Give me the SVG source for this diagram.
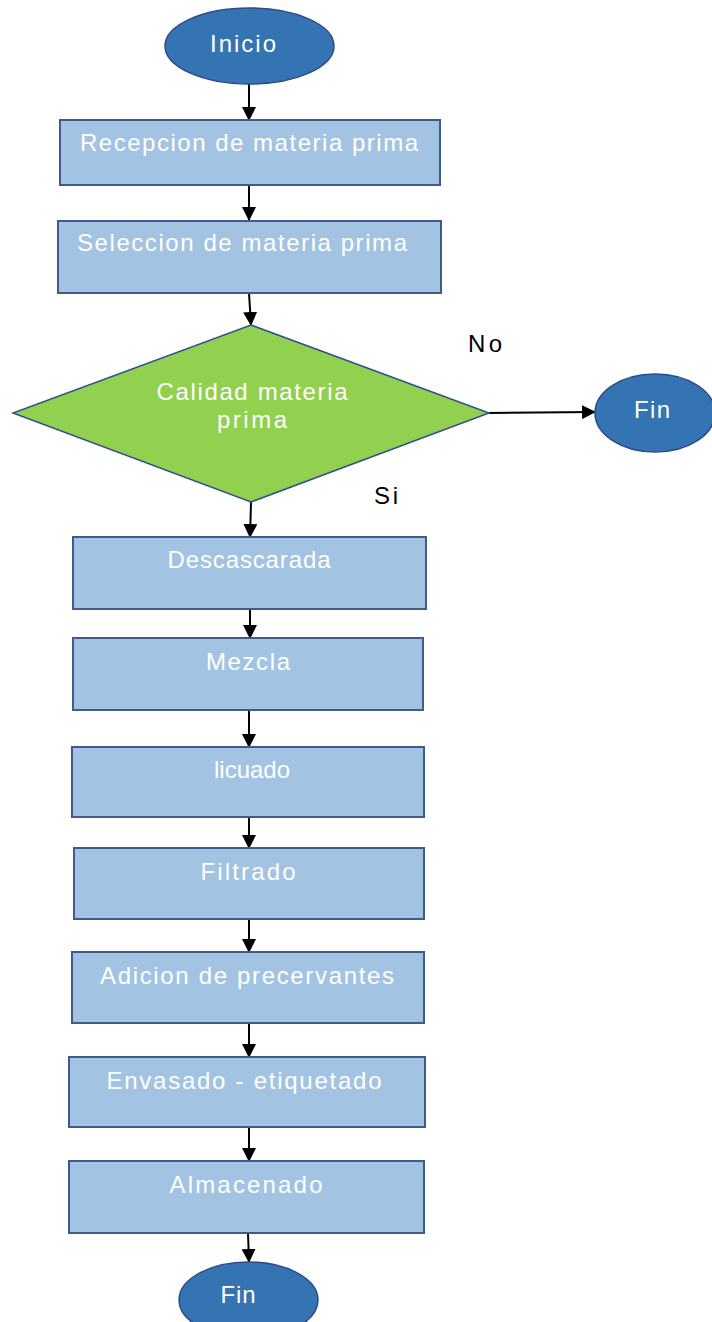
<svg xmlns="http://www.w3.org/2000/svg" width="712" height="1322" viewBox="0 0 712 1322">
<style>
.term{fill:#3474b3;stroke:#2f4a85;stroke-width:1.5}
.proc{fill:#a2c4e2;stroke:#41598b;stroke-width:2}
.dec{fill:#92d050;stroke:#2f4f8f;stroke-width:1.5}
.t{font-family:"Liberation Sans",Arial,sans-serif;font-size:24px;fill:#ffffff}
.lbl{font-family:"Liberation Sans",Arial,sans-serif;font-size:24px;fill:#000000}
.c{stroke:#000;stroke-width:2;fill:none;marker-end:url(#ah)}
</style>
<defs>
<marker id="ah" markerUnits="userSpaceOnUse" markerWidth="14" markerHeight="14" viewBox="0 0 14 14" refX="13" refY="7" orient="auto">
<path d="M0,0 L14,7 L0,14 Z" fill="#000"/>
</marker>
</defs>
<rect width="712" height="1322" fill="#ffffff"/>
<g id="connectors">
<line class="c" x1="249" y1="84" x2="249" y2="120"/>
<line class="c" x1="249" y1="185" x2="249" y2="220"/>
<line class="c" x1="249" y1="293" x2="251" y2="325"/>
<line class="c" x1="489" y1="413" x2="595" y2="412"/>
<line class="c" x1="251" y1="502" x2="250" y2="537"/>
<line class="c" x1="250" y1="609" x2="250" y2="638"/>
<line class="c" x1="249" y1="710" x2="249" y2="747"/>
<line class="c" x1="249" y1="817" x2="249" y2="848"/>
<line class="c" x1="249" y1="919" x2="249" y2="952"/>
<line class="c" x1="249" y1="1023" x2="249" y2="1057"/>
<line class="c" x1="249" y1="1127" x2="249" y2="1161"/>
<line class="c" x1="248" y1="1233" x2="249" y2="1262"/>
</g>
<g id="inicio">
<ellipse class="term" cx="249.5" cy="46" rx="84.5" ry="38"/>
<text class="t" x="243" y="52" text-anchor="middle" textLength="66">Inicio</text>
</g>
<g id="recepcion">
<rect class="proc" x="60" y="120" width="380" height="65"/>
<text class="t" x="80" y="151" textLength="338">Recepcion de materia prima</text>
</g>
<g id="seleccion">
<rect class="proc" x="58" y="221" width="383" height="72"/>
<text class="t" x="77" y="251" textLength="330">Seleccion de materia prima</text>
</g>
<g id="calidad">
<polygon class="dec" points="251,325 489,413 251,502 13,413"/>
<text class="t" x="252" y="400" text-anchor="middle" textLength="191">Calidad materia</text>
<text class="t" x="252" y="428" text-anchor="middle" textLength="70">prima</text>
</g>
<g id="fin1">
<ellipse class="term" cx="655" cy="413" rx="60" ry="39"/>
<text class="t" x="652" y="418" text-anchor="middle" textLength="36">Fin</text>
</g>
<text class="lbl" x="468" y="352" textLength="34">No</text>
<text class="lbl" x="374" y="504" textLength="24">Si</text>
<g id="descascarada">
<rect class="proc" x="73" y="537" width="353" height="72"/>
<text class="t" x="249" y="568" text-anchor="middle" textLength="163">Descascarada</text>
</g>
<g id="mezcla">
<rect class="proc" x="73" y="638" width="350" height="72"/>
<text class="t" x="248" y="670" text-anchor="middle" textLength="84">Mezcla</text>
</g>
<g id="licuado">
<rect class="proc" x="72" y="747" width="352" height="70"/>
<text class="t" x="252" y="778" text-anchor="middle" textLength="76">licuado</text>
</g>
<g id="filtrado">
<rect class="proc" x="74" y="848" width="350" height="71"/>
<text class="t" x="248" y="880" text-anchor="middle" textLength="95">Filtrado</text>
</g>
<g id="adicion">
<rect class="proc" x="72" y="952" width="352" height="71"/>
<text class="t" x="247" y="984" text-anchor="middle" textLength="294">Adicion de precervantes</text>
</g>
<g id="envasado">
<rect class="proc" x="69" y="1057" width="356" height="70"/>
<text class="t" x="244" y="1089" text-anchor="middle" textLength="275">Envasado - etiquetado</text>
</g>
<g id="almacenado">
<rect class="proc" x="69" y="1161" width="355" height="72"/>
<text class="t" x="246" y="1193" text-anchor="middle" textLength="153">Almacenado</text>
</g>
<g id="fin2">
<ellipse class="term" cx="248.5" cy="1300" rx="69.5" ry="38"/>
<text class="t" x="238" y="1303" text-anchor="middle" textLength="35">Fin</text>
</g>
</svg>
